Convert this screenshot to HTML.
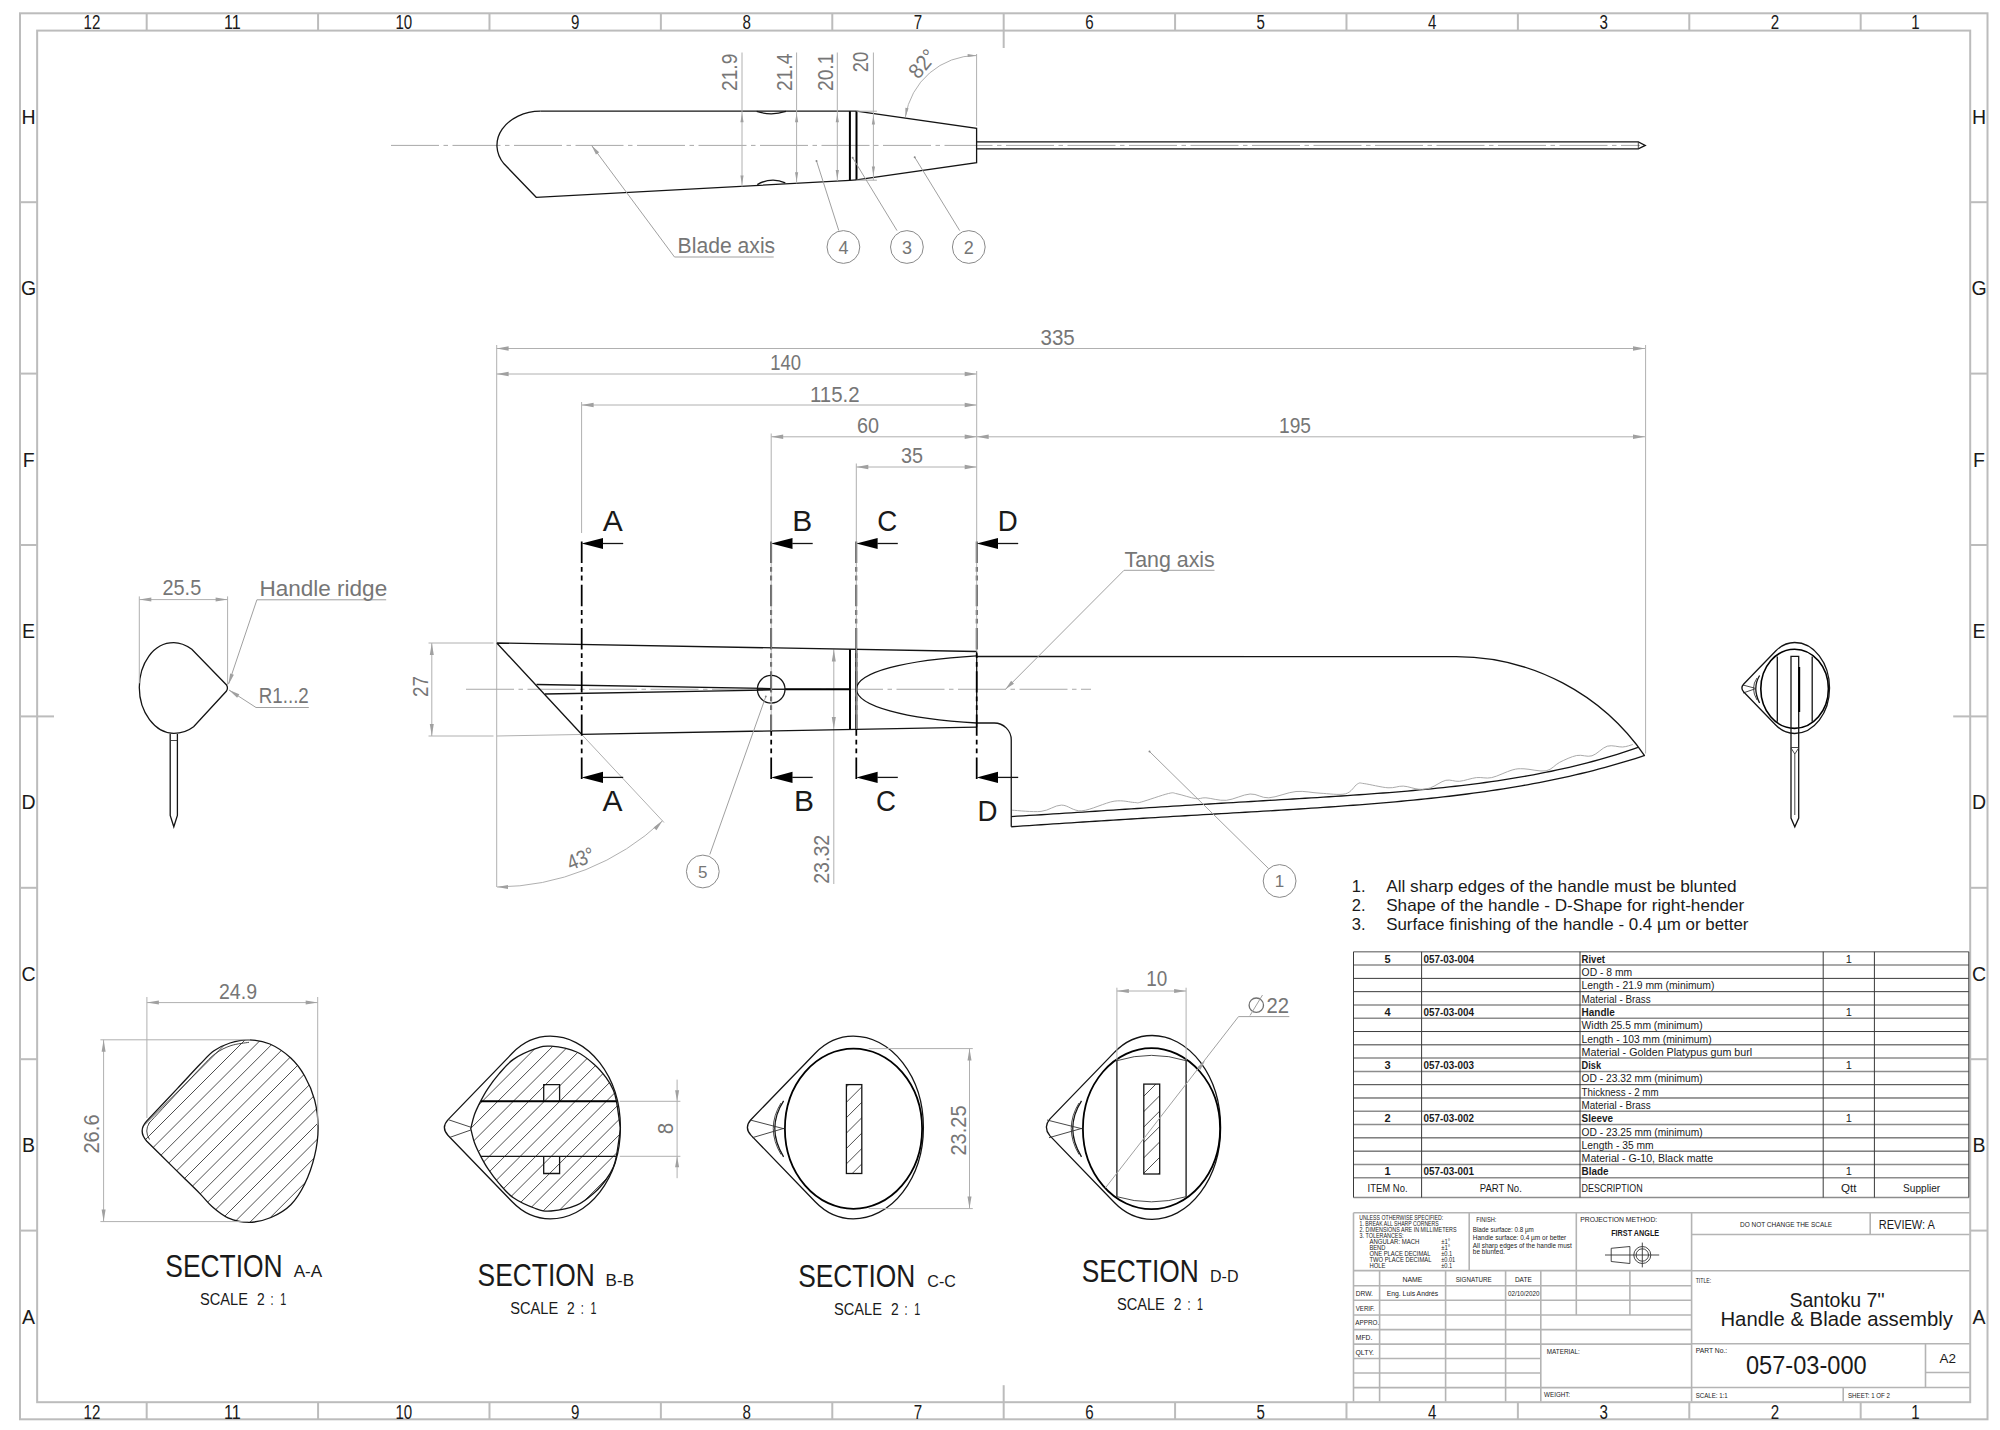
<!DOCTYPE html>
<html><head><meta charset="utf-8"><style>
html,body{margin:0;padding:0;background:#fff;overflow:hidden;width:2000px;height:1430px;}
svg{display:block;}
.b{stroke:#bcbcbc;stroke-width:2;fill:none;}
.tb{stroke:#b4b4b4;stroke-width:1.6;fill:none;}
.tbl{stroke:#3a3a3a;stroke-width:1;fill:none;}
.tblg{stroke:#8c8c8c;stroke-width:1.5;fill:none;}
.m{stroke:#141414;stroke-width:1.3;fill:none;}
.mk{stroke:#000;stroke-width:2;fill:none;}
.th{stroke:#333;stroke-width:0.9;fill:none;}
.d{stroke:#b0b0b0;stroke-width:1;fill:none;}
.dl{stroke:#a0a0a0;stroke-width:1;fill:none;}
.cl{stroke:#a8a8a8;stroke-width:1;fill:none;stroke-dasharray:48 4.5 4.5 4.5;}
.sec{stroke:#000;stroke-width:1.75;fill:none;stroke-dasharray:21.4 3.9 4.8 3.9 4.8 4.4;}
.ah{fill:#a0a0a0;stroke:none;}
.ahk{fill:#000;stroke:none;}
.wv{stroke:#aaa;stroke-width:1;fill:none;}
.ht{stroke:#222;stroke-width:0.8;fill:none;}
text{font-family:"Liberation Sans", sans-serif;}
.t{fill:#1a1a1a;}
.g{fill:#767676;}
.bal{stroke:#8a8a8a;stroke-width:1;fill:none;}
</style></head><body>
<svg width="2000" height="1430" viewBox="0 0 2000 1430">
<rect x="0" y="0" width="2000" height="1430" fill="#fff"/>
<rect x="20" y="13.3" width="1967.5" height="1406.0" class="b"/>
<rect x="37.15" y="30.6" width="1933.05" height="1371.6000000000001" class="b"/>
<line x1="146.68" y1="13.3" x2="146.68" y2="30.6" class="b"/>
<line x1="146.68" y1="1402.2" x2="146.68" y2="1419.3" class="b"/>
<line x1="318.08" y1="13.3" x2="318.08" y2="30.6" class="b"/>
<line x1="318.08" y1="1402.2" x2="318.08" y2="1419.3" class="b"/>
<line x1="489.48" y1="13.3" x2="489.48" y2="30.6" class="b"/>
<line x1="489.48" y1="1402.2" x2="489.48" y2="1419.3" class="b"/>
<line x1="660.88" y1="13.3" x2="660.88" y2="30.6" class="b"/>
<line x1="660.88" y1="1402.2" x2="660.88" y2="1419.3" class="b"/>
<line x1="832.28" y1="13.3" x2="832.28" y2="30.6" class="b"/>
<line x1="832.28" y1="1402.2" x2="832.28" y2="1419.3" class="b"/>
<line x1="1003.68" y1="13.3" x2="1003.68" y2="30.6" class="b"/>
<line x1="1003.68" y1="1402.2" x2="1003.68" y2="1419.3" class="b"/>
<line x1="1175.08" y1="13.3" x2="1175.08" y2="30.6" class="b"/>
<line x1="1175.08" y1="1402.2" x2="1175.08" y2="1419.3" class="b"/>
<line x1="1346.48" y1="13.3" x2="1346.48" y2="30.6" class="b"/>
<line x1="1346.48" y1="1402.2" x2="1346.48" y2="1419.3" class="b"/>
<line x1="1517.88" y1="13.3" x2="1517.88" y2="30.6" class="b"/>
<line x1="1517.88" y1="1402.2" x2="1517.88" y2="1419.3" class="b"/>
<line x1="1689.28" y1="13.3" x2="1689.28" y2="30.6" class="b"/>
<line x1="1689.28" y1="1402.2" x2="1689.28" y2="1419.3" class="b"/>
<line x1="1860.68" y1="13.3" x2="1860.68" y2="30.6" class="b"/>
<line x1="1860.68" y1="1402.2" x2="1860.68" y2="1419.3" class="b"/>
<line x1="20" y1="202.2" x2="37.15" y2="202.2" class="b"/>
<line x1="1970.2" y1="202.2" x2="1987.5" y2="202.2" class="b"/>
<line x1="20" y1="373.6" x2="37.15" y2="373.6" class="b"/>
<line x1="1970.2" y1="373.6" x2="1987.5" y2="373.6" class="b"/>
<line x1="20" y1="545" x2="37.15" y2="545" class="b"/>
<line x1="1970.2" y1="545" x2="1987.5" y2="545" class="b"/>
<line x1="20" y1="716.4" x2="37.15" y2="716.4" class="b"/>
<line x1="1970.2" y1="716.4" x2="1987.5" y2="716.4" class="b"/>
<line x1="20" y1="887.8" x2="37.15" y2="887.8" class="b"/>
<line x1="1970.2" y1="887.8" x2="1987.5" y2="887.8" class="b"/>
<line x1="20" y1="1059.2" x2="37.15" y2="1059.2" class="b"/>
<line x1="1970.2" y1="1059.2" x2="1987.5" y2="1059.2" class="b"/>
<line x1="20" y1="1230.6" x2="37.15" y2="1230.6" class="b"/>
<line x1="1970.2" y1="1230.6" x2="1987.5" y2="1230.6" class="b"/>
<line x1="1003.68" y1="30.6" x2="1003.68" y2="48" class="b"/>
<line x1="1003.68" y1="1402.2" x2="1003.68" y2="1385.2" class="b"/>
<line x1="37.15" y1="716.4" x2="54" y2="716.4" class="b"/>
<line x1="1970.2" y1="716.4" x2="1953.2" y2="716.4" class="b"/>
<text x="91.91" y="29.2" font-size="20" class="t" text-anchor="middle" textLength="16.8" lengthAdjust="spacingAndGlyphs">12</text>
<text x="91.91" y="1418.6" font-size="20" class="t" text-anchor="middle" textLength="16.8" lengthAdjust="spacingAndGlyphs">12</text>
<text x="232.38" y="29.2" font-size="20" class="t" text-anchor="middle" textLength="16.8" lengthAdjust="spacingAndGlyphs">11</text>
<text x="232.38" y="1418.6" font-size="20" class="t" text-anchor="middle" textLength="16.8" lengthAdjust="spacingAndGlyphs">11</text>
<text x="403.78" y="29.2" font-size="20" class="t" text-anchor="middle" textLength="16.8" lengthAdjust="spacingAndGlyphs">10</text>
<text x="403.78" y="1418.6" font-size="20" class="t" text-anchor="middle" textLength="16.8" lengthAdjust="spacingAndGlyphs">10</text>
<text x="575.17" y="29.2" font-size="20" class="t" text-anchor="middle" textLength="8.4" lengthAdjust="spacingAndGlyphs">9</text>
<text x="575.17" y="1418.6" font-size="20" class="t" text-anchor="middle" textLength="8.4" lengthAdjust="spacingAndGlyphs">9</text>
<text x="746.58" y="29.2" font-size="20" class="t" text-anchor="middle" textLength="8.4" lengthAdjust="spacingAndGlyphs">8</text>
<text x="746.58" y="1418.6" font-size="20" class="t" text-anchor="middle" textLength="8.4" lengthAdjust="spacingAndGlyphs">8</text>
<text x="917.98" y="29.2" font-size="20" class="t" text-anchor="middle" textLength="8.4" lengthAdjust="spacingAndGlyphs">7</text>
<text x="917.98" y="1418.6" font-size="20" class="t" text-anchor="middle" textLength="8.4" lengthAdjust="spacingAndGlyphs">7</text>
<text x="1089.38" y="29.2" font-size="20" class="t" text-anchor="middle" textLength="8.4" lengthAdjust="spacingAndGlyphs">6</text>
<text x="1089.38" y="1418.6" font-size="20" class="t" text-anchor="middle" textLength="8.4" lengthAdjust="spacingAndGlyphs">6</text>
<text x="1260.78" y="29.2" font-size="20" class="t" text-anchor="middle" textLength="8.4" lengthAdjust="spacingAndGlyphs">5</text>
<text x="1260.78" y="1418.6" font-size="20" class="t" text-anchor="middle" textLength="8.4" lengthAdjust="spacingAndGlyphs">5</text>
<text x="1432.18" y="29.2" font-size="20" class="t" text-anchor="middle" textLength="8.4" lengthAdjust="spacingAndGlyphs">4</text>
<text x="1432.18" y="1418.6" font-size="20" class="t" text-anchor="middle" textLength="8.4" lengthAdjust="spacingAndGlyphs">4</text>
<text x="1603.58" y="29.2" font-size="20" class="t" text-anchor="middle" textLength="8.4" lengthAdjust="spacingAndGlyphs">3</text>
<text x="1603.58" y="1418.6" font-size="20" class="t" text-anchor="middle" textLength="8.4" lengthAdjust="spacingAndGlyphs">3</text>
<text x="1774.98" y="29.2" font-size="20" class="t" text-anchor="middle" textLength="8.4" lengthAdjust="spacingAndGlyphs">2</text>
<text x="1774.98" y="1418.6" font-size="20" class="t" text-anchor="middle" textLength="8.4" lengthAdjust="spacingAndGlyphs">2</text>
<text x="1915.44" y="29.2" font-size="20" class="t" text-anchor="middle" textLength="8.4" lengthAdjust="spacingAndGlyphs">1</text>
<text x="1915.44" y="1418.6" font-size="20" class="t" text-anchor="middle" textLength="8.4" lengthAdjust="spacingAndGlyphs">1</text>
<text x="28.6" y="123.7" font-size="19.5" class="t" text-anchor="middle">H</text>
<text x="1979" y="123.7" font-size="19.5" class="t" text-anchor="middle">H</text>
<text x="28.6" y="295.2" font-size="19.5" class="t" text-anchor="middle">G</text>
<text x="1979" y="295.2" font-size="19.5" class="t" text-anchor="middle">G</text>
<text x="28.6" y="466.6" font-size="19.5" class="t" text-anchor="middle">F</text>
<text x="1979" y="466.6" font-size="19.5" class="t" text-anchor="middle">F</text>
<text x="28.6" y="638" font-size="19.5" class="t" text-anchor="middle">E</text>
<text x="1979" y="638" font-size="19.5" class="t" text-anchor="middle">E</text>
<text x="28.6" y="809.4" font-size="19.5" class="t" text-anchor="middle">D</text>
<text x="1979" y="809.4" font-size="19.5" class="t" text-anchor="middle">D</text>
<text x="28.6" y="980.8" font-size="19.5" class="t" text-anchor="middle">C</text>
<text x="1979" y="980.8" font-size="19.5" class="t" text-anchor="middle">C</text>
<text x="28.6" y="1152.2" font-size="19.5" class="t" text-anchor="middle">B</text>
<text x="1979" y="1152.2" font-size="19.5" class="t" text-anchor="middle">B</text>
<text x="28.6" y="1323.7" font-size="19.5" class="t" text-anchor="middle">A</text>
<text x="1979" y="1323.7" font-size="19.5" class="t" text-anchor="middle">A</text>
<line x1="391" y1="145.4" x2="1640" y2="145.4" class="cl"/>
<path d="M 540.4 111.2 L 856.5 111.2" class="m" />
<path d="M 540.4 111.2 A 44 34.1 0 0 0 504 163.8 L 536.2 197.3 L 849.9 180.4" class="m" />
<path d="M 756.7 111.4 Q 771.3 116.2 785.9 111.4" class="m" />
<path d="M 757.3 184.6 Q 771.3 176.5 785.3 182.8" class="m" />
<line x1="849.9" y1="111.2" x2="849.9" y2="180.5" class="mk"/>
<line x1="856.5" y1="111.2" x2="856.5" y2="179.8" class="mk"/>
<line x1="849.9" y1="180.4" x2="856.5" y2="179.8" class="m"/>
<path d="M 856.5 111.2 L 976.6 128.4 L 976.6 162.6 L 856.5 179.8" class="m" />
<path d="M 976.6 141.8 L 1638.3 141.8 L 1645.3 145.4 L 1638.3 148.9 L 976.6 148.9" class="m" />
<line x1="1638.3" y1="141.8" x2="1638.3" y2="148.9" class="th"/>
<line x1="742" y1="52.5" x2="742" y2="186.5" class="d"/>
<line x1="796.6" y1="52.5" x2="796.6" y2="183.3" class="d"/>
<line x1="837.3" y1="52.5" x2="837.3" y2="181" class="d"/>
<line x1="873.4" y1="52.5" x2="873.4" y2="180.2" class="d"/>
<path d="M 742 113.2 L 743.6 122.2 L 740.4 122.2 Z" class="ah"/>
<path d="M 742 184.5 L 740.4 175.5 L 743.6 175.5 Z" class="ah"/>
<path d="M 796.6 113.2 L 798.2 122.2 L 795 122.2 Z" class="ah"/>
<path d="M 796.6 181.3 L 795 172.3 L 798.2 172.3 Z" class="ah"/>
<path d="M 837.3 113.2 L 838.9 122.2 L 835.7 122.2 Z" class="ah"/>
<path d="M 837.3 179 L 835.7 170 L 838.9 170 Z" class="ah"/>
<path d="M 873.4 115.5 L 875 124.5 L 871.8 124.5 Z" class="ah"/>
<path d="M 873.4 175.5 L 871.8 166.5 L 875 166.5 Z" class="ah"/>
<line x1="856.8" y1="111.2" x2="876.9" y2="111.2" class="d"/>
<line x1="856.8" y1="180.2" x2="876.9" y2="180.2" class="d"/>
<text x="736.8" y="72.3" font-size="21.5" class="g" text-anchor="middle" textLength="37.5" lengthAdjust="spacingAndGlyphs" transform="rotate(-90 736.8 72.3)">21.9</text>
<text x="792.5" y="72.3" font-size="21.5" class="g" text-anchor="middle" textLength="37.5" lengthAdjust="spacingAndGlyphs" transform="rotate(-90 792.5 72.3)">21.4</text>
<text x="832.8" y="72.3" font-size="21.5" class="g" text-anchor="middle" textLength="37.5" lengthAdjust="spacingAndGlyphs" transform="rotate(-90 832.8 72.3)">20.1</text>
<text x="868.3" y="62.1" font-size="21.5" class="g" text-anchor="middle" textLength="20.5" lengthAdjust="spacingAndGlyphs" transform="rotate(-90 868.3 62.1)">20</text>
<line x1="976.6" y1="54" x2="976.6" y2="126" class="d"/>
<path d="M 905.4 116.9 A 72 72 0 0 1 976.6 55.5" class="d" />
<path d="M 905.4 116.9 L 905.39 107.76 L 908.54 108.31 Z" class="ah"/>
<path d="M 976.6 55.5 L 967.6 57.1 L 967.6 53.9 Z" class="ah"/>
<text x="928" y="68.5" font-size="21.5" class="g" text-anchor="middle" textLength="30" lengthAdjust="spacingAndGlyphs" transform="rotate(-50 928 68.5)">82°</text>
<line x1="591.6" y1="145.4" x2="674.5" y2="257" class="dl"/>
<path d="M 591.6 145.4 L 599.17 152.23 L 595.96 154.62 Z" class="ah"/>
<line x1="674.5" y1="257" x2="773.7" y2="257" class="dl"/>
<text x="677.6" y="253.4" font-size="21.5" class="g" textLength="97.6" lengthAdjust="spacingAndGlyphs">Blade axis</text>
<circle cx="843.4" cy="247" r="16.4" class="bal"/>
<text x="843.4" y="253.6" font-size="18" class="g" text-anchor="middle">4</text>
<line x1="838.8" y1="230.6" x2="816.5" y2="160.9" class="dl"/>
<circle cx="816.5" cy="160.9" r="1" fill="#888"/>
<circle cx="906.9" cy="247" r="16.4" class="bal"/>
<text x="906.9" y="253.6" font-size="18" class="g" text-anchor="middle">3</text>
<line x1="897" y1="230.6" x2="852.7" y2="157.8" class="dl"/>
<circle cx="852.7" cy="157.8" r="1" fill="#888"/>
<circle cx="968.8" cy="247" r="16.4" class="bal"/>
<text x="968.8" y="253.6" font-size="18" class="g" text-anchor="middle">2</text>
<line x1="959.7" y1="230.6" x2="914.7" y2="157.2" class="dl"/>
<circle cx="914.7" cy="157.2" r="1" fill="#888"/>
<line x1="496.6" y1="348.5" x2="1645" y2="348.5" class="d"/>
<path d="M 496.6 348.5 L 508.6 346.3 L 508.6 350.7 Z" class="ah"/>
<path d="M 1645 348.5 L 1633 350.7 L 1633 346.3 Z" class="ah"/>
<text x="1040.5" y="345.2" font-size="21.5" class="g" textLength="34.3" lengthAdjust="spacingAndGlyphs">335</text>
<line x1="496.6" y1="374" x2="976.7" y2="374" class="d"/>
<path d="M 496.6 374 L 508.6 371.8 L 508.6 376.2 Z" class="ah"/>
<path d="M 976.7 374 L 964.7 376.2 L 964.7 371.8 Z" class="ah"/>
<text x="770.2" y="370.2" font-size="21.5" class="g" textLength="30.8" lengthAdjust="spacingAndGlyphs">140</text>
<line x1="581.6" y1="405" x2="976.7" y2="405" class="d"/>
<path d="M 581.6 405 L 593.6 402.8 L 593.6 407.2 Z" class="ah"/>
<path d="M 976.7 405 L 964.7 407.2 L 964.7 402.8 Z" class="ah"/>
<text x="810" y="401.8" font-size="21.5" class="g" textLength="49.6" lengthAdjust="spacingAndGlyphs">115.2</text>
<line x1="771.2" y1="436.8" x2="976.7" y2="436.8" class="d"/>
<path d="M 771.2 436.8 L 783.2 434.6 L 783.2 439 Z" class="ah"/>
<path d="M 976.7 436.8 L 964.7 439 L 964.7 434.6 Z" class="ah"/>
<text x="857" y="433" font-size="21.5" class="g" textLength="22" lengthAdjust="spacingAndGlyphs">60</text>
<line x1="976.7" y1="436.8" x2="1645" y2="436.8" class="d"/>
<path d="M 976.7 436.8 L 988.7 434.6 L 988.7 439 Z" class="ah"/>
<path d="M 1645 436.8 L 1633 439 L 1633 434.6 Z" class="ah"/>
<text x="1279" y="433.2" font-size="21.5" class="g" textLength="32" lengthAdjust="spacingAndGlyphs">195</text>
<line x1="856.3" y1="467" x2="976.7" y2="467" class="d"/>
<path d="M 856.3 467 L 868.3 464.8 L 868.3 469.2 Z" class="ah"/>
<path d="M 976.7 467 L 964.7 469.2 L 964.7 464.8 Z" class="ah"/>
<text x="901" y="462.5" font-size="21.5" class="g" textLength="22" lengthAdjust="spacingAndGlyphs">35</text>
<line x1="496.7" y1="345" x2="496.7" y2="887" class="d"/>
<line x1="581.6" y1="402" x2="581.6" y2="533" class="d"/>
<line x1="1645.6" y1="345" x2="1645.6" y2="753.5" class="d"/>
<line x1="428.5" y1="643" x2="493.5" y2="643" class="d"/>
<line x1="428.5" y1="736" x2="493.5" y2="736" class="d"/>
<line x1="497" y1="736" x2="580" y2="734.5" class="d"/>
<line x1="431.8" y1="643" x2="431.8" y2="736" class="d"/>
<path d="M 431.8 643 L 433.8 655 L 429.8 655 Z" class="ah"/>
<path d="M 431.8 736 L 429.8 724 L 433.8 724 Z" class="ah"/>
<text x="427.5" y="686.5" font-size="21.5" class="g" text-anchor="middle" textLength="21" lengthAdjust="spacingAndGlyphs" transform="rotate(-90 427.5 686.5)">27</text>
<line x1="833.8" y1="649.5" x2="833.8" y2="884" class="d"/>
<path d="M 833.8 649.5 L 835.8 661.5 L 831.8 661.5 Z" class="ah"/>
<path d="M 833.8 729 L 831.8 717 L 835.8 717 Z" class="ah"/>
<text x="829" y="859.3" font-size="21.5" class="g" text-anchor="middle" textLength="49" lengthAdjust="spacingAndGlyphs" transform="rotate(-90 829 859.3)">23.32</text>
<line x1="581.6" y1="734.3" x2="664" y2="822.5" class="d"/>
<path d="M 497 887 A 244 244 0 0 0 662.5 820.8" class="d" />
<path d="M 497 887 L 508 885 L 508 889 Z" class="ah"/>
<path d="M 662.5 820.8 L 656.46 830.21 L 653.54 827.48 Z" class="ah"/>
<text x="583.5" y="865.4" font-size="21.5" class="g" text-anchor="middle" textLength="28" lengthAdjust="spacingAndGlyphs" transform="rotate(-22 583.5 865.4)">43°</text>
<line x1="466" y1="689.25" x2="1091" y2="689.25" class="cl"/>
<path d="M 496.8 643 L 976.7 651.5 M 496.8 643 L 581.6 734.3 L 976.7 727.2" class="m" />
<path d="M 536.5 684.5 L 771.2 688.6 M 545 694 L 771.2 689.9" class="m" />
<line x1="785" y1="689.25" x2="850" y2="689.25" class="mk"/>
<line x1="757.4" y1="689.25" x2="785" y2="689.25" class="m"/>
<circle cx="771.2" cy="689.25" r="13.8" class="m"/>
<line x1="850" y1="649.6" x2="850" y2="729" class="mk"/>
<line x1="856.3" y1="649.7" x2="856.3" y2="728.8" class="mk"/>
<line x1="976.7" y1="651.5" x2="976.7" y2="727.2" class="m"/>
<path d="M 976.7 655.8 C 905 660 857 672 856.3 689.25 C 857 706 905 719 976.7 723" class="m" />
<path d="M 976.7 656.5 L 1456 656.6 A 229 229 0 0 1 1644.7 755.8" class="m" />
<path d="M 976.7 723 L 994 723 A 17 17 0 0 1 1011.25 740 L 1011.25 826.7" class="m" />
<path d="M 1011.25 826.77 L 1017.25 826.37 L 1023.25 825.96 L 1029.25 825.56 L 1035.25 825.16 L 1041.25 824.76 L 1047.25 824.36 L 1053.25 823.97 L 1059.25 823.57 L 1065.25 823.18 L 1071.25 822.79 L 1077.25 822.4 L 1083.25 822.01 L 1089.25 821.63 L 1095.25 821.24 L 1101.25 820.86 L 1107.25 820.48 L 1113.25 820.11 L 1119.25 819.73 L 1125.25 819.36 L 1131.25 818.99 L 1137.25 818.63 L 1143.25 818.26 L 1149.25 817.9 L 1155.25 817.54 L 1161.25 817.18 L 1167.25 816.82 L 1173.25 816.47 L 1179.25 816.12 L 1185.25 815.76 L 1191.25 815.41 L 1197.25 815.06 L 1203.25 814.71 L 1209.25 814.36 L 1215.25 814.02 L 1221.25 813.67 L 1227.25 813.32 L 1233.25 812.97 L 1239.25 812.62 L 1245.25 812.27 L 1251.25 811.91 L 1257.25 811.56 L 1263.25 811.2 L 1269.25 810.84 L 1275.25 810.48 L 1281.25 810.11 L 1287.25 809.74 L 1293.25 809.36 L 1299.25 808.98 L 1305.25 808.6 L 1311.25 808.21 L 1317.25 807.81 L 1323.25 807.4 L 1329.25 806.99 L 1335.25 806.57 L 1341.25 806.14 L 1347.25 805.71 L 1353.25 805.26 L 1359.25 804.8 L 1365.25 804.33 L 1371.25 803.85 L 1377.25 803.36 L 1383.25 802.86 L 1389.25 802.34 L 1395.25 801.8 L 1401.25 801.25 L 1407.25 800.69 L 1413.25 800.11 L 1419.25 799.51 L 1425.25 798.89 L 1431.25 798.26 L 1437.25 797.6 L 1443.25 796.93 L 1449.25 796.23 L 1455.25 795.51 L 1461.25 794.76 L 1467.25 794 L 1473.25 793.2 L 1479.25 792.38 L 1485.25 791.54 L 1491.25 790.66 L 1497.25 789.76 L 1503.25 788.83 L 1509.25 787.86 L 1515.25 786.87 L 1521.25 785.84 L 1527.25 784.78 L 1533.25 783.68 L 1539.25 782.55 L 1545.25 781.38 L 1551.25 780.17 L 1557.25 778.92 L 1563.25 777.63 L 1569.25 776.29 L 1575.25 774.92 L 1581.25 773.5 L 1587.25 772.04 L 1593.25 770.52 L 1599.25 768.96 L 1605.25 767.36 L 1611.25 765.7 L 1617.25 763.99 L 1623.25 762.22 L 1629.25 760.4 L 1635.25 758.53 L 1641.25 756.6 L 1644.7 755.46" class="m" />
<path d="M 1011.25 816.54 L 1017.25 816.19 L 1023.25 815.83 L 1029.25 815.47 L 1035.25 815.11 L 1041.25 814.73 L 1047.25 814.36 L 1053.25 813.97 L 1059.25 813.59 L 1065.25 813.2 L 1071.25 812.81 L 1077.25 812.42 L 1083.25 812.03 L 1089.25 811.64 L 1095.25 811.24 L 1101.25 810.85 L 1107.25 810.45 L 1113.25 810.06 L 1119.25 809.66 L 1125.25 809.27 L 1131.25 808.88 L 1137.25 808.49 L 1143.25 808.1 L 1149.25 807.72 L 1155.25 807.33 L 1161.25 806.95 L 1167.25 806.57 L 1173.25 806.2 L 1179.25 805.82 L 1185.25 805.45 L 1191.25 805.08 L 1197.25 804.71 L 1203.25 804.34 L 1209.25 803.98 L 1215.25 803.62 L 1221.25 803.26 L 1227.25 802.9 L 1233.25 802.54 L 1239.25 802.18 L 1245.25 801.83 L 1251.25 801.48 L 1257.25 801.12 L 1263.25 800.77 L 1269.25 800.42 L 1275.25 800.06 L 1281.25 799.71 L 1287.25 799.35 L 1293.25 798.99 L 1299.25 798.63 L 1305.25 798.27 L 1311.25 797.9 L 1317.25 797.53 L 1323.25 797.15 L 1329.25 796.77 L 1335.25 796.39 L 1341.25 795.99 L 1347.25 795.59 L 1353.25 795.19 L 1359.25 794.77 L 1365.25 794.35 L 1371.25 793.91 L 1377.25 793.47 L 1383.25 793.01 L 1389.25 792.54 L 1395.25 792.05 L 1401.25 791.56 L 1407.25 791.04 L 1413.25 790.51 L 1419.25 789.97 L 1425.25 789.4 L 1431.25 788.82 L 1437.25 788.21 L 1443.25 787.59 L 1449.25 786.94 L 1455.25 786.27 L 1461.25 785.57 L 1467.25 784.85 L 1473.25 784.09 L 1479.25 783.32 L 1485.25 782.51 L 1491.25 781.67 L 1497.25 780.8 L 1503.25 779.89 L 1509.25 778.95 L 1515.25 777.97 L 1521.25 776.95 L 1527.25 775.9 L 1533.25 774.8 L 1539.25 773.67 L 1545.25 772.48 L 1551.25 771.26 L 1557.25 769.98 L 1563.25 768.66 L 1569.25 767.28 L 1575.25 765.86 L 1581.25 764.38 L 1587.25 762.84 L 1593.25 761.25 L 1599.25 759.6 L 1605.25 757.89 L 1611.25 756.12 L 1617.25 754.28 L 1623.25 752.38 L 1629.25 750.4 L 1635.25 748.36 L 1637.9 747.44" class="m" />
<path d="M 1012.1 810.2 C 1016.92 810.4 1032.78 812.25 1041 811.4 C 1049.22 810.55 1054.6 805.2 1061.4 805.1 C 1068.2 805 1073.02 811.45 1081.8 810.8 C 1090.58 810.15 1105.32 802.58 1114.1 801.2 C 1122.88 799.82 1129.97 802.37 1134.5 802.5 C 1139.03 802.63 1135.63 803.5 1141.3 802 C 1146.97 800.5 1162.55 794.87 1168.5 793.5 C 1174.45 792.13 1172.47 792.95 1177 793.8 C 1181.53 794.65 1190.88 797.93 1195.7 798.6 C 1200.52 799.27 1200.8 797.52 1205.9 797.8 C 1211 798.08 1218.93 800.93 1226.3 800.3 C 1233.67 799.67 1243.02 794.42 1250.1 794 C 1257.18 793.58 1261.15 798.22 1268.8 797.8 C 1276.45 797.38 1287.47 792.27 1296 791.5 C 1304.53 790.73 1311.75 792.82 1320 793.2 C 1328.25 793.58 1339.27 795.33 1345.5 793.8 C 1351.73 792.27 1354.28 785.7 1357.4 784 C 1360.52 782.3 1359.1 782.97 1364.2 783.6 C 1369.3 784.23 1381.48 787.38 1388 787.8 C 1394.52 788.22 1398.2 785.87 1403.3 786.1 C 1408.4 786.33 1414.07 788.92 1418.6 789.2 C 1423.13 789.48 1425.97 789.28 1430.5 787.8 C 1435.03 786.32 1440.98 781.38 1445.8 780.3 C 1450.62 779.22 1454.3 781.75 1459.4 781.3 C 1464.5 780.85 1471.02 778.22 1476.4 777.6 C 1481.78 776.98 1485.75 778.87 1491.7 777.6 C 1497.65 776.33 1506.72 771.47 1512.1 770 C 1517.48 768.53 1518.33 768.67 1524 768.8 C 1529.67 768.93 1540.15 771.88 1546.1 770.8 C 1552.05 769.72 1554.6 764.85 1559.7 762.3 C 1564.8 759.75 1571.32 756.58 1576.7 755.5 C 1582.08 754.42 1586.9 757.35 1592 755.8 C 1597.1 754.25 1602.2 747.67 1607.3 746.2 C 1612.4 744.73 1618.35 747.28 1622.6 747 C 1626.85 746.72 1631.1 744.92 1632.8 744.5" class="wv" />
<line x1="581.7" y1="541.6" x2="581.7" y2="779" class="sec"/>
<path d="M 581.7 543.5 L 603 537.9 L 603 549.1 Z" class="ahk"/>
<line x1="602.7" y1="543.5" x2="623.2" y2="543.5" class="m"/>
<path d="M 581.7 777.4 L 603 771.8 L 603 783 Z" class="ahk"/>
<line x1="602.7" y1="777.4" x2="623.2" y2="777.4" class="m"/>
<text x="612.7" y="531" font-size="29" class="t" text-anchor="middle" textLength="20" lengthAdjust="spacingAndGlyphs">A</text>
<text x="612.5" y="811.3" font-size="29" class="t" text-anchor="middle" textLength="20" lengthAdjust="spacingAndGlyphs">A</text>
<line x1="771.2" y1="541.6" x2="771.2" y2="779" class="sec"/>
<path d="M 771.2 543.5 L 792.5 537.9 L 792.5 549.1 Z" class="ahk"/>
<line x1="792.2" y1="543.5" x2="812.7" y2="543.5" class="m"/>
<path d="M 771.2 777.4 L 792.5 771.8 L 792.5 783 Z" class="ahk"/>
<line x1="792.2" y1="777.4" x2="812.7" y2="777.4" class="m"/>
<text x="802.2" y="531" font-size="29" class="t" text-anchor="middle" textLength="20" lengthAdjust="spacingAndGlyphs">B</text>
<text x="804" y="811.3" font-size="29" class="t" text-anchor="middle" textLength="20" lengthAdjust="spacingAndGlyphs">B</text>
<line x1="856.3" y1="541.6" x2="856.3" y2="779" class="sec"/>
<path d="M 856.3 543.5 L 877.6 537.9 L 877.6 549.1 Z" class="ahk"/>
<line x1="877.3" y1="543.5" x2="897.8" y2="543.5" class="m"/>
<path d="M 856.3 777.4 L 877.6 771.8 L 877.6 783 Z" class="ahk"/>
<line x1="877.3" y1="777.4" x2="897.8" y2="777.4" class="m"/>
<text x="887.3" y="531" font-size="29" class="t" text-anchor="middle" textLength="20" lengthAdjust="spacingAndGlyphs">C</text>
<text x="886" y="811.3" font-size="29" class="t" text-anchor="middle" textLength="20" lengthAdjust="spacingAndGlyphs">C</text>
<line x1="976.7" y1="541.6" x2="976.7" y2="779" class="sec"/>
<path d="M 976.7 543.5 L 998 537.9 L 998 549.1 Z" class="ahk"/>
<line x1="997.7" y1="543.5" x2="1018.2" y2="543.5" class="m"/>
<path d="M 976.7 777.4 L 998 771.8 L 998 783 Z" class="ahk"/>
<line x1="997.7" y1="777.4" x2="1018.2" y2="777.4" class="m"/>
<text x="1007.7" y="531" font-size="29" class="t" text-anchor="middle" textLength="20" lengthAdjust="spacingAndGlyphs">D</text>
<text x="987.5" y="820.5" font-size="29" class="t" text-anchor="middle" textLength="20" lengthAdjust="spacingAndGlyphs">D</text>
<line x1="771.2" y1="433.5" x2="771.2" y2="731" class="d"/>
<line x1="856.3" y1="463.5" x2="856.3" y2="729" class="d"/>
<line x1="976.7" y1="371" x2="976.7" y2="651.5" class="d"/>
<line x1="1005.5" y1="689.3" x2="1124" y2="570.3" class="dl"/>
<path d="M 1005.5 689.3 L 1011.14 680.8 L 1013.97 683.63 Z" class="ah"/>
<line x1="1124" y1="570.3" x2="1214.5" y2="570.3" class="dl"/>
<text x="1124.5" y="566.5" font-size="21.5" class="g" textLength="90.3" lengthAdjust="spacingAndGlyphs">Tang axis</text>
<circle cx="702.8" cy="871.5" r="16.4" class="bal"/>
<text x="702.8" y="877.5" font-size="17" class="g" text-anchor="middle">5</text>
<line x1="709.8" y1="854.5" x2="765.8" y2="696.5" class="dl"/>
<circle cx="765.8" cy="696.5" r="1" fill="#888"/>
<circle cx="1279.6" cy="881" r="16.4" class="bal"/>
<text x="1279.6" y="887" font-size="17" class="g" text-anchor="middle">1</text>
<line x1="1268.5" y1="868.5" x2="1149.5" y2="751.5" class="dl"/>
<circle cx="1149.5" cy="751.5" r="1" fill="#888"/>
<path d="M 191.8 649.3 C 185 644.5, 179 642.7, 173.8 642.7 C 153 642.7, 139.3 664, 139.3 687.5 C 139.3 712, 155 733.3, 173.8 733.3 C 181 733.3, 188 731, 193.6 726.7 L 226.3 691.3 Q 228.6 688 226.3 684.7 Z" class="m" />
<path d="M 170.2 733.9 L 170.2 815.5 L 173.8 826.8 L 177.4 815.5 L 177.4 733.9" class="m" />
<line x1="170.2" y1="740.5" x2="177.4" y2="740.5" class="th"/>
<line x1="139.3" y1="596.4" x2="139.3" y2="683.3" class="d"/>
<line x1="227.6" y1="596.4" x2="227.6" y2="685.2" class="d"/>
<line x1="139.3" y1="599.6" x2="227.6" y2="599.6" class="d"/>
<path d="M 139.3 599.6 L 151.3 597.6 L 151.3 601.6 Z" class="ah"/>
<path d="M 227.6 599.6 L 215.6 601.6 L 215.6 597.6 Z" class="ah"/>
<text x="162.5" y="594.9" font-size="21.5" class="g" textLength="38.7" lengthAdjust="spacingAndGlyphs">25.5</text>
<line x1="256.9" y1="599.8" x2="386.2" y2="599.8" class="dl"/>
<line x1="256.9" y1="599.8" x2="228.5" y2="684" class="dl"/>
<path d="M 228.5 684.5 L 230.1 673.43 L 233.89 674.71 Z" class="ah"/>
<text x="259.4" y="596.4" font-size="21.5" class="g" textLength="127.8" lengthAdjust="spacingAndGlyphs">Handle ridge</text>
<line x1="256" y1="707.5" x2="308.8" y2="707.5" class="dl"/>
<line x1="256" y1="707.5" x2="229" y2="690" class="dl"/>
<path d="M 229 690 L 239.32 694.3 L 237.14 697.66 Z" class="ah"/>
<text x="258.8" y="703.3" font-size="21.5" class="g" textLength="50" lengthAdjust="spacingAndGlyphs">R1...2</text>
<ellipse cx="1794.6" cy="688.8" rx="33.8" ry="39.6" class="mk" style="stroke-width:1.6"/>
<line x1="1777.3" y1="656.4" x2="1777.3" y2="721.8" class="m"/>
<line x1="1812.2" y1="656.4" x2="1812.2" y2="721.8" class="m"/>
<path d="M 1791 656.4 L 1798.7 656.4 L 1798.7 818 L 1794.8 826.8 L 1791 818 Z" class="m" />
<line x1="1791" y1="747.5" x2="1798.7" y2="747.5" class="th"/>
<line x1="1791" y1="748" x2="1794.8" y2="754" class="th"/>
<line x1="1798.7" y1="748" x2="1794.8" y2="754" class="th"/>
<line x1="1794.8" y1="754" x2="1794.8" y2="815" class="th"/>
<line x1="1799.2" y1="667" x2="1799.2" y2="712" class="mk"/>
<path d="M 1759.6 675.5 Q 1752 688 1759.6 703" class="m" />
<path d="M 1757 678 Q 1750 688 1757 700" class="th" />
<line x1="1743" y1="685" x2="1756" y2="688.5" class="th"/>
<line x1="1743" y1="693" x2="1756" y2="688.5" class="th"/>
<clipPath id="hc1"><path d="M 146.8 1120.9 C 151.92 1115.48 168.63 1097.83 177.5 1088.4 C 186.37 1078.97 193.92 1070.57 200 1064.3 C 206.08 1058.03 209 1054.35 214 1050.8 C 219 1047.25 224.18 1044.83 230 1043 C 235.82 1041.17 242.25 1039.63 248.9 1039.8 C 255.55 1039.97 262.92 1040.97 269.9 1044 C 276.88 1047.03 284.98 1052.63 290.8 1058 C 296.62 1063.37 300.83 1069.22 304.8 1076.2 C 308.77 1083.18 312.38 1091.28 314.6 1099.9 C 316.82 1108.52 318.1 1118.57 318.1 1127.9 C 318.1 1137.23 316.82 1146.58 314.6 1155.9 C 312.38 1165.22 308.77 1175.65 304.8 1183.8 C 300.83 1191.95 296.43 1199.18 290.8 1204.8 C 285.17 1210.42 277.98 1214.58 271 1217.5 C 264.02 1220.42 256.07 1222.25 248.9 1222.3 C 241.73 1222.35 234.15 1220.43 228 1217.8 C 221.85 1215.17 216.68 1210.53 212 1206.5 C 207.32 1202.47 205.23 1199.02 199.9 1193.6 C 194.57 1188.18 186.65 1180.55 180 1174 C 173.35 1167.45 165.53 1159.77 160 1154.3 C 154.47 1148.83 149 1143.38 146.8 1141.2 Q 137.5 1131 146.8 1120.9 Z"/></clipPath>
<path d="M -64.8 1225 L 125.2 1035 M -49.2 1225 L 140.8 1035 M -33.6 1225 L 156.4 1035 M -18 1225 L 172 1035 M -2.4 1225 L 187.6 1035 M 13.2 1225 L 203.2 1035 M 28.8 1225 L 218.8 1035 M 44.4 1225 L 234.4 1035 M 60 1225 L 250 1035 M 75.6 1225 L 265.6 1035 M 91.2 1225 L 281.2 1035 M 106.8 1225 L 296.8 1035 M 122.4 1225 L 312.4 1035 M 138 1225 L 328 1035 M 153.6 1225 L 343.6 1035 M 169.2 1225 L 359.2 1035 M 184.8 1225 L 374.8 1035 M 200.4 1225 L 390.4 1035 M 216 1225 L 406 1035 M 231.6 1225 L 421.6 1035 M 247.2 1225 L 437.2 1035 M 262.8 1225 L 452.8 1035 M 278.4 1225 L 468.4 1035 M 294 1225 L 484 1035 M 309.6 1225 L 499.6 1035" class="ht" clip-path="url(#hc1)"/>
<path d="M 146.8 1120.9 C 151.92 1115.48 168.63 1097.83 177.5 1088.4 C 186.37 1078.97 193.92 1070.57 200 1064.3 C 206.08 1058.03 209 1054.35 214 1050.8 C 219 1047.25 224.18 1044.83 230 1043 C 235.82 1041.17 242.25 1039.63 248.9 1039.8 C 255.55 1039.97 262.92 1040.97 269.9 1044 C 276.88 1047.03 284.98 1052.63 290.8 1058 C 296.62 1063.37 300.83 1069.22 304.8 1076.2 C 308.77 1083.18 312.38 1091.28 314.6 1099.9 C 316.82 1108.52 318.1 1118.57 318.1 1127.9 C 318.1 1137.23 316.82 1146.58 314.6 1155.9 C 312.38 1165.22 308.77 1175.65 304.8 1183.8 C 300.83 1191.95 296.43 1199.18 290.8 1204.8 C 285.17 1210.42 277.98 1214.58 271 1217.5 C 264.02 1220.42 256.07 1222.25 248.9 1222.3 C 241.73 1222.35 234.15 1220.43 228 1217.8 C 221.85 1215.17 216.68 1210.53 212 1206.5 C 207.32 1202.47 205.23 1199.02 199.9 1193.6 C 194.57 1188.18 186.65 1180.55 180 1174 C 173.35 1167.45 165.53 1159.77 160 1154.3 C 154.47 1148.83 149 1143.38 146.8 1141.2 Q 137.5 1131 146.8 1120.9 Z" class="m" />
<path d="M 148.8 1123.4 C 153.83 1118 170.22 1100.4 179 1091 C 187.78 1081.6 195.42 1073.25 201.5 1067 C 207.58 1060.75 210.58 1057.07 215.5 1053.5 C 220.42 1049.93 225.42 1047.47 231 1045.6 C 236.58 1043.73 246 1042.85 249 1042.3" class="th" />
<path d="M 149.5 1122.5 Q 144 1131 149.5 1139.5" class="th" />
<line x1="146.9" y1="997" x2="146.9" y2="1118" class="d"/>
<line x1="317.7" y1="997" x2="317.7" y2="1125" class="d"/>
<line x1="146.9" y1="1002.6" x2="317.7" y2="1002.6" class="d"/>
<path d="M 146.9 1002.6 L 158.9 1000.6 L 158.9 1004.6 Z" class="ah"/>
<path d="M 317.7 1002.6 L 305.7 1004.6 L 305.7 1000.6 Z" class="ah"/>
<text x="219" y="998.9" font-size="21.5" class="g" textLength="38" lengthAdjust="spacingAndGlyphs">24.9</text>
<line x1="100.4" y1="1039.8" x2="250" y2="1039.8" class="d"/>
<line x1="100.4" y1="1221.6" x2="248" y2="1221.6" class="d"/>
<line x1="103.6" y1="1039.8" x2="103.6" y2="1221.6" class="d"/>
<path d="M 103.6 1039.8 L 105.6 1051.8 L 101.6 1051.8 Z" class="ah"/>
<path d="M 103.6 1221.6 L 101.6 1209.6 L 105.6 1209.6 Z" class="ah"/>
<text x="99" y="1134" font-size="21.5" class="g" text-anchor="middle" textLength="39.2" lengthAdjust="spacingAndGlyphs" transform="rotate(-90 99 1134)">26.6</text>
<text x="165.3" y="1277.2" font-size="31.5" class="t" textLength="117.4" lengthAdjust="spacingAndGlyphs">SECTION</text>
<text x="293.7" y="1277.2" font-size="17.3" class="t" textLength="28.5" lengthAdjust="spacingAndGlyphs">A-A</text>
<text x="200" y="1304.6" font-size="16.7" class="t" textLength="48" lengthAdjust="spacingAndGlyphs">SCALE</text>
<text x="256.9" y="1304.6" font-size="16.7" class="t" textLength="7.7" lengthAdjust="spacingAndGlyphs">2</text>
<text x="270.6" y="1304.6" font-size="16.7" class="t" textLength="3" lengthAdjust="spacingAndGlyphs">:</text>
<text x="280.2" y="1304.6" font-size="16.7" class="t" textLength="6" lengthAdjust="spacingAndGlyphs">1</text>
<clipPath id="hc2"><path d="M 470.8 1128.4 C 471.42 1126.08 472.9 1118.97 474.5 1114.5 C 476.1 1110.03 478.2 1105.88 480.4 1101.6 C 482.6 1097.32 484.63 1093.38 487.7 1088.8 C 490.77 1084.22 494.52 1079 498.8 1074.1 C 503.08 1069.2 507.28 1063.63 513.4 1059.4 C 519.52 1055.17 529.23 1050.9 535.5 1048.7 C 541.77 1046.5 544.13 1045.65 551 1046.2 C 557.87 1046.75 569.35 1048.83 576.7 1052 C 584.05 1055.17 590.2 1060.92 595.1 1065.2 C 600 1069.48 603.05 1073.53 606.1 1077.7 C 609.15 1081.87 611.68 1086.28 613.4 1090.2 C 615.12 1094.12 615.3 1095.33 616.4 1101.2 C 617.5 1107.07 619.35 1120.87 620 1125.4 C 620.65 1129.93 620.3 1127.33 620.3 1128.4 C 620.3 1129.47 620.65 1127.2 620 1131.8 C 619.35 1136.4 617.5 1150.13 616.4 1156 C 615.3 1161.87 615.12 1163.08 613.4 1167 C 611.68 1170.92 609.15 1175.33 606.1 1179.5 C 603.05 1183.67 600 1187.72 595.1 1192 C 590.2 1196.28 584.05 1202.03 576.7 1205.2 C 569.35 1208.37 557.87 1210.45 551 1211 C 544.13 1211.55 541.77 1210.7 535.5 1208.5 C 529.23 1206.3 519.52 1202.03 513.4 1197.8 C 507.28 1193.57 503.08 1188 498.8 1183.1 C 494.52 1178.2 490.77 1172.98 487.7 1168.4 C 484.63 1163.82 482.6 1159.88 480.4 1155.6 C 478.2 1151.32 476.1 1147.17 474.5 1142.7 C 472.9 1138.23 471.42 1131.12 470.8 1128.8 Z"/></clipPath>
<path d="M 292.1 1214 L 462.1 1044 M 307.6 1214 L 477.6 1044 M 323.1 1214 L 493.1 1044 M 338.6 1214 L 508.6 1044 M 354.1 1214 L 524.1 1044 M 369.6 1214 L 539.6 1044 M 385.1 1214 L 555.1 1044 M 400.6 1214 L 570.6 1044 M 416.1 1214 L 586.1 1044 M 431.6 1214 L 601.6 1044 M 447.1 1214 L 617.1 1044 M 462.6 1214 L 632.6 1044 M 478.1 1214 L 648.1 1044 M 493.6 1214 L 663.6 1044 M 509.1 1214 L 679.1 1044 M 524.6 1214 L 694.6 1044 M 540.1 1214 L 710.1 1044 M 555.6 1214 L 725.6 1044 M 571.1 1214 L 741.1 1044 M 586.6 1214 L 756.6 1044 M 602.1 1214 L 772.1 1044 M 617.6 1214 L 787.6 1044" class="ht" clip-path="url(#hc2)"/>
<path d="M 448.1 1119.6 L 512.2 1053.3 C 522.6 1042.5 535.2 1036.2 550.2 1036.2 A 70.2 91.35 0 0 1 550.2 1218.9 C 535.2 1218.9 522.6 1212.6 512.2 1201.8 L 448.1 1135.5 Q 440.7 1127.55 448.1 1119.6 Z" class="m" />
<path d="M 470.8 1128.4 C 471.42 1126.08 472.9 1118.97 474.5 1114.5 C 476.1 1110.03 478.2 1105.88 480.4 1101.6 C 482.6 1097.32 484.63 1093.38 487.7 1088.8 C 490.77 1084.22 494.52 1079 498.8 1074.1 C 503.08 1069.2 507.28 1063.63 513.4 1059.4 C 519.52 1055.17 529.23 1050.9 535.5 1048.7 C 541.77 1046.5 544.13 1045.65 551 1046.2 C 557.87 1046.75 569.35 1048.83 576.7 1052 C 584.05 1055.17 590.2 1060.92 595.1 1065.2 C 600 1069.48 603.05 1073.53 606.1 1077.7 C 609.15 1081.87 611.68 1086.28 613.4 1090.2 C 615.12 1094.12 615.3 1095.33 616.4 1101.2 C 617.5 1107.07 619.35 1120.87 620 1125.4 C 620.65 1129.93 620.3 1127.33 620.3 1128.4 C 620.3 1129.47 620.65 1127.2 620 1131.8 C 619.35 1136.4 617.5 1150.13 616.4 1156 C 615.3 1161.87 615.12 1163.08 613.4 1167 C 611.68 1170.92 609.15 1175.33 606.1 1179.5 C 603.05 1183.67 600 1187.72 595.1 1192 C 590.2 1196.28 584.05 1202.03 576.7 1205.2 C 569.35 1208.37 557.87 1210.45 551 1211 C 544.13 1211.55 541.77 1210.7 535.5 1208.5 C 529.23 1206.3 519.52 1202.03 513.4 1197.8 C 507.28 1193.57 503.08 1188 498.8 1183.1 C 494.52 1178.2 490.77 1172.98 487.7 1168.4 C 484.63 1163.82 482.6 1159.88 480.4 1155.6 C 478.2 1151.32 476.1 1147.17 474.5 1142.7 C 472.9 1138.23 471.42 1131.12 470.8 1128.8 Z" class="m" />
<line x1="480.9" y1="1101.3" x2="616" y2="1101.3" class="mk"/>
<line x1="480.9" y1="1156.3" x2="616" y2="1156.3" class="m"/>
<path d="M 543.7 1101.3 L 543.7 1084.6 L 559.6 1084.6 L 559.6 1101.3" class="m" />
<path d="M 543.7 1156.6 L 543.7 1173.5 L 559.6 1173.5 L 559.6 1156.6" class="m" />
<line x1="448.1" y1="1119.6" x2="470.8" y2="1127.2" class="th"/>
<line x1="449.5" y1="1137.5" x2="470.8" y2="1130" class="th"/>
<line x1="619.7" y1="1101.3" x2="680.4" y2="1101.3" class="d"/>
<line x1="619.7" y1="1156.3" x2="680.4" y2="1156.3" class="d"/>
<line x1="677.1" y1="1079.6" x2="677.1" y2="1178.2" class="d"/>
<path d="M 677.1 1101.3 L 675.1 1090.3 L 679.1 1090.3 Z" class="ah"/>
<path d="M 677.1 1156.3 L 679.1 1167.3 L 675.1 1167.3 Z" class="ah"/>
<text x="672.8" y="1128.4" font-size="21.5" class="g" text-anchor="middle" textLength="11.5" lengthAdjust="spacingAndGlyphs" transform="rotate(-90 672.8 1128.4)">8</text>
<text x="477.6" y="1285.5" font-size="31.5" class="t" textLength="117.2" lengthAdjust="spacingAndGlyphs">SECTION</text>
<text x="605.6" y="1285.5" font-size="17.3" class="t" textLength="28.5" lengthAdjust="spacingAndGlyphs">B-B</text>
<text x="510.2" y="1313.7" font-size="16.7" class="t" textLength="48" lengthAdjust="spacingAndGlyphs">SCALE</text>
<text x="567.1" y="1313.7" font-size="16.7" class="t" textLength="7.7" lengthAdjust="spacingAndGlyphs">2</text>
<text x="580.8" y="1313.7" font-size="16.7" class="t" textLength="3" lengthAdjust="spacingAndGlyphs">:</text>
<text x="590.4" y="1313.7" font-size="16.7" class="t" textLength="6" lengthAdjust="spacingAndGlyphs">1</text>
<path d="M 751.1 1119.5 L 815.2 1053.2 C 825.6 1042.4 838.2 1036.1 853.2 1036.1 A 70.2 91.35 0 0 1 853.2 1218.8 C 838.2 1218.8 825.6 1212.5 815.2 1201.7 L 751.1 1135.4 Q 743.7 1127.45 751.1 1119.5 Z" class="m" />
<path d="M 784.9 1128.7 A 68.6 80 0 1 0 922.1 1128.7 A 68.6 80 0 1 0 784.9 1128.7 Z" class="mk" style="stroke-width:1.8"/>
<clipPath id="hc3"><path d="M 846.4 1084.6 H 861.8 V 1173.5 H 846.4 Z"/></clipPath>
<path d="M 744.4 1173.5 L 833.3 1084.6 M 759.8 1173.5 L 848.7 1084.6 M 775.2 1173.5 L 864.1 1084.6 M 790.6 1173.5 L 879.5 1084.6 M 806 1173.5 L 894.9 1084.6 M 821.4 1173.5 L 910.3 1084.6 M 836.8 1173.5 L 925.7 1084.6 M 852.2 1173.5 L 941.1 1084.6" class="ht" clip-path="url(#hc3)"/>
<rect x="846.4" y="1084.6" width="15.4" height="88.9" class="m"/>
<path d="M 783.6 1100.9 Q 766 1128.2 783.6 1156.8" class="m" />
<path d="M 781 1103 Q 765.5 1128.2 781 1154.5" class="th" />
<line x1="750.2" y1="1120" x2="784.5" y2="1128.9" class="th"/>
<line x1="752.3" y1="1137.7" x2="784.5" y2="1128.2" class="th"/>
<line x1="868.7" y1="1048.6" x2="972.8" y2="1048.6" class="d"/>
<line x1="868.7" y1="1208.6" x2="972.8" y2="1208.6" class="d"/>
<line x1="969.5" y1="1048.6" x2="969.5" y2="1208.6" class="d"/>
<path d="M 969.5 1048.6 L 971.5 1060.6 L 967.5 1060.6 Z" class="ah"/>
<path d="M 969.5 1208.6 L 967.5 1196.6 L 971.5 1196.6 Z" class="ah"/>
<text x="966.3" y="1130.5" font-size="21.5" class="g" text-anchor="middle" textLength="50" lengthAdjust="spacingAndGlyphs" transform="rotate(-90 966.3 1130.5)">23.25</text>
<text x="798.2" y="1286.6" font-size="31.5" class="t" textLength="117.1" lengthAdjust="spacingAndGlyphs">SECTION</text>
<text x="927.3" y="1286.6" font-size="17.3" class="t" textLength="28.5" lengthAdjust="spacingAndGlyphs">C-C</text>
<text x="834" y="1315.3" font-size="16.7" class="t" textLength="48" lengthAdjust="spacingAndGlyphs">SCALE</text>
<text x="890.9" y="1315.3" font-size="16.7" class="t" textLength="7.7" lengthAdjust="spacingAndGlyphs">2</text>
<text x="904.6" y="1315.3" font-size="16.7" class="t" textLength="3" lengthAdjust="spacingAndGlyphs">:</text>
<text x="914.2" y="1315.3" font-size="16.7" class="t" textLength="6" lengthAdjust="spacingAndGlyphs">1</text>
<path d="M 1050 1118.9 L 1114.1 1052.6 C 1124.5 1041.8 1137.1 1035.5 1152.1 1035.5 A 68.5 91.9 0 0 1 1152.1 1219.3 C 1137.1 1219.3 1124.5 1213 1114.1 1202.2 L 1050 1135.9 Q 1042.6 1127.4 1050 1118.9 Z" class="m" />
<path d="M 1082.9 1128.7 A 68.6 80.5 0 1 0 1220.1 1128.7 A 68.6 80.5 0 1 0 1082.9 1128.7 Z" class="mk" style="stroke-width:1.8"/>
<line x1="1116.9" y1="1060.7" x2="1116.9" y2="1196.7" class="m"/>
<line x1="1186.1" y1="1060.7" x2="1186.1" y2="1196.7" class="m"/>
<path d="M 1116.9 1060.7 Q 1151.5 1050 1186.1 1060.7" class="th" />
<path d="M 1116.9 1196.7 Q 1151.5 1207 1186.1 1196.7" class="th" />
<clipPath id="hc4"><path d="M 1143.8 1084.1 H 1159.7 V 1174 H 1143.8 Z"/></clipPath>
<path d="M 1050.6 1174 L 1140.5 1084.1 M 1066 1174 L 1155.9 1084.1 M 1081.4 1174 L 1171.3 1084.1 M 1096.8 1174 L 1186.7 1084.1 M 1112.2 1174 L 1202.1 1084.1 M 1127.6 1174 L 1217.5 1084.1 M 1143 1174 L 1232.9 1084.1 M 1158.4 1174 L 1248.3 1084.1" class="ht" clip-path="url(#hc4)"/>
<rect x="1143.8" y="1084.1" width="15.9" height="89.9" class="m"/>
<path d="M 1081.5 1100.9 Q 1064 1128.2 1081.5 1156.8" class="m" />
<path d="M 1079 1103 Q 1063.5 1128.2 1079 1154.5" class="th" />
<line x1="1047" y1="1120" x2="1082.5" y2="1128.9" class="th"/>
<line x1="1049" y1="1137.7" x2="1082.5" y2="1128.2" class="th"/>
<line x1="1116.9" y1="987.7" x2="1116.9" y2="1060" class="d"/>
<line x1="1186.1" y1="987.7" x2="1186.1" y2="1060" class="d"/>
<line x1="1116.9" y1="991" x2="1186.1" y2="991" class="d"/>
<path d="M 1116.9 991 L 1128.9 989 L 1128.9 993 Z" class="ah"/>
<path d="M 1186.1 991 L 1174.1 993 L 1174.1 989 Z" class="ah"/>
<text x="1146.3" y="986.4" font-size="21.5" class="g" textLength="21" lengthAdjust="spacingAndGlyphs">10</text>
<line x1="1105.5" y1="1187.8" x2="1238.5" y2="1016.6" class="dl"/>
<line x1="1238.5" y1="1016.6" x2="1289.3" y2="1016.6" class="dl"/>
<path d="M 1205 1060.7 L 1200.44 1069.82 L 1197.29 1067.37 Z" class="ah"/>
<circle cx="1256.3" cy="1005.2" r="7.2" style="fill:none;stroke:#707070;stroke-width:1.3"/>
<line x1="1250" y1="1015.5" x2="1262.5" y2="995" class="dl"/>
<text x="1266.5" y="1012.9" font-size="21.5" class="g" textLength="22.5" lengthAdjust="spacingAndGlyphs">22</text>
<text x="1081.7" y="1282.2" font-size="31.5" class="t" textLength="117" lengthAdjust="spacingAndGlyphs">SECTION</text>
<text x="1210" y="1282.2" font-size="17.3" class="t" textLength="28.5" lengthAdjust="spacingAndGlyphs">D-D</text>
<text x="1116.9" y="1310" font-size="16.7" class="t" textLength="48" lengthAdjust="spacingAndGlyphs">SCALE</text>
<text x="1173.8" y="1310" font-size="16.7" class="t" textLength="7.7" lengthAdjust="spacingAndGlyphs">2</text>
<text x="1187.5" y="1310" font-size="16.7" class="t" textLength="3" lengthAdjust="spacingAndGlyphs">:</text>
<text x="1197.1" y="1310" font-size="16.7" class="t" textLength="6" lengthAdjust="spacingAndGlyphs">1</text>
<path d="M 1743.75 684.03 L 1775.68 651.02 C 1780.86 645.64 1787.13 642.5 1794.6 642.5 A 34.96 45.49 0 0 1 1794.6 733.48 C 1787.13 733.48 1780.86 730.35 1775.68 724.97 L 1743.75 691.95 Q 1740.07 687.99 1743.75 684.03 Z" class="m" />
<text x="1351.8" y="892.1" font-size="16.5" class="t">1.</text>
<text x="1386.2" y="892.1" font-size="16.5" class="t" textLength="350.5" lengthAdjust="spacingAndGlyphs">All sharp edges of the handle must be blunted</text>
<text x="1351.8" y="911" font-size="16.5" class="t">2.</text>
<text x="1386.2" y="911" font-size="16.5" class="t" textLength="358" lengthAdjust="spacingAndGlyphs">Shape of the handle - D-Shape for right-hender</text>
<text x="1351.8" y="929.9" font-size="16.5" class="t">3.</text>
<text x="1386.2" y="929.9" font-size="16.5" class="t" textLength="362.3" lengthAdjust="spacingAndGlyphs">Surface finishing of the handle - 0.4 µm or better</text>
<line x1="1353.5" y1="951.8" x2="1968.8" y2="951.8" class="tblg"/>
<line x1="1353.5" y1="965.09" x2="1968.8" y2="965.09" class="tblg"/>
<line x1="1353.5" y1="978.38" x2="1968.8" y2="978.38" class="tbl"/>
<line x1="1353.5" y1="991.67" x2="1968.8" y2="991.67" class="tbl"/>
<line x1="1353.5" y1="1004.96" x2="1968.8" y2="1004.96" class="tblg"/>
<line x1="1353.5" y1="1018.25" x2="1968.8" y2="1018.25" class="tblg"/>
<line x1="1353.5" y1="1031.54" x2="1968.8" y2="1031.54" class="tbl"/>
<line x1="1353.5" y1="1044.83" x2="1968.8" y2="1044.83" class="tbl"/>
<line x1="1353.5" y1="1058.12" x2="1968.8" y2="1058.12" class="tblg"/>
<line x1="1353.5" y1="1071.41" x2="1968.8" y2="1071.41" class="tblg"/>
<line x1="1353.5" y1="1084.7" x2="1968.8" y2="1084.7" class="tbl"/>
<line x1="1353.5" y1="1097.99" x2="1968.8" y2="1097.99" class="tbl"/>
<line x1="1353.5" y1="1111.28" x2="1968.8" y2="1111.28" class="tblg"/>
<line x1="1353.5" y1="1124.57" x2="1968.8" y2="1124.57" class="tblg"/>
<line x1="1353.5" y1="1137.86" x2="1968.8" y2="1137.86" class="tbl"/>
<line x1="1353.5" y1="1151.15" x2="1968.8" y2="1151.15" class="tbl"/>
<line x1="1353.5" y1="1164.44" x2="1968.8" y2="1164.44" class="tblg"/>
<line x1="1353.5" y1="1177.73" x2="1968.8" y2="1177.73" class="tblg"/>
<line x1="1353.5" y1="1197.53" x2="1968.8" y2="1197.53" class="tblg"/>
<line x1="1353.5" y1="951.8" x2="1353.5" y2="1197.53" class="tbl"/>
<line x1="1421.6" y1="951.8" x2="1421.6" y2="1197.53" class="tbl"/>
<line x1="1580" y1="951.8" x2="1580" y2="1197.53" class="tbl"/>
<line x1="1823.2" y1="951.8" x2="1823.2" y2="1197.53" class="tbl"/>
<line x1="1874.4" y1="951.8" x2="1874.4" y2="1197.53" class="tbl"/>
<line x1="1968.8" y1="951.8" x2="1968.8" y2="1197.53" class="tbl"/>
<text x="1387.55" y="962.8" font-size="11" class="t" text-anchor="middle" font-weight="bold">5</text>
<text x="1423.6" y="962.8" font-size="11" class="t" textLength="50.4" lengthAdjust="spacingAndGlyphs" font-weight="bold">057-03-004</text>
<text x="1581.6" y="962.8" font-size="11" class="t" textLength="23.3" lengthAdjust="spacingAndGlyphs" font-weight="bold">Rivet</text>
<text x="1848.8" y="962.8" font-size="11" class="t" text-anchor="middle">1</text>
<text x="1581.6" y="976.09" font-size="11" class="t" textLength="50.5" lengthAdjust="spacingAndGlyphs">OD - 8 mm</text>
<text x="1581.6" y="989.38" font-size="11" class="t" textLength="132.8" lengthAdjust="spacingAndGlyphs">Length - 21.9 mm (minimum)</text>
<text x="1581.6" y="1002.67" font-size="11" class="t" textLength="69" lengthAdjust="spacingAndGlyphs">Material - Brass</text>
<text x="1387.55" y="1015.96" font-size="11" class="t" text-anchor="middle" font-weight="bold">4</text>
<text x="1423.6" y="1015.96" font-size="11" class="t" textLength="50.4" lengthAdjust="spacingAndGlyphs" font-weight="bold">057-03-004</text>
<text x="1581.6" y="1015.96" font-size="11" class="t" textLength="33.3" lengthAdjust="spacingAndGlyphs" font-weight="bold">Handle</text>
<text x="1848.8" y="1015.96" font-size="11" class="t" text-anchor="middle">1</text>
<text x="1581.6" y="1029.25" font-size="11" class="t" textLength="121" lengthAdjust="spacingAndGlyphs">Width 25.5 mm (minimum)</text>
<text x="1581.6" y="1042.54" font-size="11" class="t" textLength="130" lengthAdjust="spacingAndGlyphs">Length - 103 mm (minimum)</text>
<text x="1581.6" y="1055.83" font-size="11" class="t" textLength="170.6" lengthAdjust="spacingAndGlyphs">Material -  Golden Platypus gum burl</text>
<text x="1387.55" y="1069.12" font-size="11" class="t" text-anchor="middle" font-weight="bold">3</text>
<text x="1423.6" y="1069.12" font-size="11" class="t" textLength="50.4" lengthAdjust="spacingAndGlyphs" font-weight="bold">057-03-003</text>
<text x="1581.6" y="1069.12" font-size="11" class="t" textLength="19.5" lengthAdjust="spacingAndGlyphs" font-weight="bold">Disk</text>
<text x="1848.8" y="1069.12" font-size="11" class="t" text-anchor="middle">1</text>
<text x="1581.6" y="1082.41" font-size="11" class="t" textLength="121" lengthAdjust="spacingAndGlyphs">OD - 23.32 mm (minimum)</text>
<text x="1581.6" y="1095.7" font-size="11" class="t" textLength="77" lengthAdjust="spacingAndGlyphs">Thickness - 2 mm</text>
<text x="1581.6" y="1108.99" font-size="11" class="t" textLength="69" lengthAdjust="spacingAndGlyphs">Material - Brass</text>
<text x="1387.55" y="1122.28" font-size="11" class="t" text-anchor="middle" font-weight="bold">2</text>
<text x="1423.6" y="1122.28" font-size="11" class="t" textLength="50.4" lengthAdjust="spacingAndGlyphs" font-weight="bold">057-03-002</text>
<text x="1581.6" y="1122.28" font-size="11" class="t" textLength="31.5" lengthAdjust="spacingAndGlyphs" font-weight="bold">Sleeve</text>
<text x="1848.8" y="1122.28" font-size="11" class="t" text-anchor="middle">1</text>
<text x="1581.6" y="1135.57" font-size="11" class="t" textLength="121" lengthAdjust="spacingAndGlyphs">OD - 23.25 mm (minimum)</text>
<text x="1581.6" y="1148.86" font-size="11" class="t" textLength="72" lengthAdjust="spacingAndGlyphs">Length - 35 mm</text>
<text x="1581.6" y="1162.15" font-size="11" class="t" textLength="131.5" lengthAdjust="spacingAndGlyphs">Material - G-10, Black matte</text>
<text x="1387.55" y="1175.44" font-size="11" class="t" text-anchor="middle" font-weight="bold">1</text>
<text x="1423.6" y="1175.44" font-size="11" class="t" textLength="50.4" lengthAdjust="spacingAndGlyphs" font-weight="bold">057-03-001</text>
<text x="1581.6" y="1175.44" font-size="11" class="t" textLength="27" lengthAdjust="spacingAndGlyphs" font-weight="bold">Blade</text>
<text x="1848.8" y="1175.44" font-size="11" class="t" text-anchor="middle">1</text>
<text x="1387.55" y="1191.73" font-size="11" class="t" text-anchor="middle" textLength="40" lengthAdjust="spacingAndGlyphs">ITEM No.</text>
<text x="1500.8" y="1191.73" font-size="11" class="t" text-anchor="middle" textLength="42" lengthAdjust="spacingAndGlyphs">PART No.</text>
<text x="1581.6" y="1191.73" font-size="11" class="t" textLength="61" lengthAdjust="spacingAndGlyphs">DESCRIPTION</text>
<text x="1848.8" y="1191.73" font-size="11" class="t" text-anchor="middle" textLength="15.5" lengthAdjust="spacingAndGlyphs">Qtt</text>
<text x="1921.6" y="1191.73" font-size="11" class="t" text-anchor="middle" textLength="37" lengthAdjust="spacingAndGlyphs">Supplier</text>
<line x1="1353.5" y1="1212.8" x2="1969.5" y2="1212.8" class="tb"/>
<line x1="1353.5" y1="1212.8" x2="1353.5" y2="1401.5" class="tb"/>
<line x1="1469.2" y1="1212.8" x2="1469.2" y2="1270.6" class="tb"/>
<line x1="1576.3" y1="1212.8" x2="1576.3" y2="1270.6" class="tb"/>
<line x1="1691.6" y1="1212.8" x2="1691.6" y2="1401.5" class="tb"/>
<line x1="1353.5" y1="1270.6" x2="1691.6" y2="1270.6" class="tb"/>
<line x1="1353.5" y1="1285.7" x2="1691.6" y2="1285.7" class="tb"/>
<line x1="1353.5" y1="1300.3" x2="1691.6" y2="1300.3" class="tb"/>
<line x1="1353.5" y1="1315" x2="1691.6" y2="1315" class="tb"/>
<line x1="1353.5" y1="1329.6" x2="1691.6" y2="1329.6" class="tb"/>
<line x1="1353.5" y1="1344.1" x2="1691.6" y2="1344.1" class="tb"/>
<line x1="1353.5" y1="1387.6" x2="1691.6" y2="1387.6" class="tb"/>
<line x1="1353.5" y1="1358.5" x2="1540.8" y2="1358.5" class="tb"/>
<line x1="1353.5" y1="1373" x2="1540.8" y2="1373" class="tb"/>
<line x1="1379.6" y1="1270.6" x2="1379.6" y2="1401.5" class="tb"/>
<line x1="1445.6" y1="1270.6" x2="1445.6" y2="1401.5" class="tb"/>
<line x1="1505.6" y1="1270.6" x2="1505.6" y2="1401.5" class="tb"/>
<line x1="1540.8" y1="1270.6" x2="1540.8" y2="1401.5" class="tb"/>
<line x1="1576.3" y1="1270.6" x2="1576.3" y2="1315" class="tb"/>
<line x1="1629.9" y1="1270.6" x2="1629.9" y2="1315" class="tb"/>
<line x1="1691.6" y1="1234.5" x2="1969.5" y2="1234.5" class="tb"/>
<line x1="1691.6" y1="1270.8" x2="1969.5" y2="1270.8" class="tb"/>
<line x1="1691.6" y1="1343.7" x2="1969.5" y2="1343.7" class="tb"/>
<line x1="1691.6" y1="1387.5" x2="1969.5" y2="1387.5" class="tb"/>
<line x1="1870.2" y1="1212.8" x2="1870.2" y2="1234.5" class="tb"/>
<line x1="1925.5" y1="1343.7" x2="1925.5" y2="1387.5" class="tb"/>
<line x1="1925.5" y1="1372.5" x2="1969.5" y2="1372.5" class="tb"/>
<line x1="1843.2" y1="1387.5" x2="1843.2" y2="1401.5" class="tb"/>
<text x="1359.2" y="1219.9" font-size="6.5" class="t" textLength="84" lengthAdjust="spacingAndGlyphs">UNLESS OTHERWISE SPECIFIED:</text>
<text x="1359.6" y="1225.87" font-size="6.5" class="t" textLength="79" lengthAdjust="spacingAndGlyphs">1. BREAK ALL SHARP CORNERS</text>
<text x="1359.6" y="1231.84" font-size="6.5" class="t" textLength="97" lengthAdjust="spacingAndGlyphs">2. DIMENSIONS ARE IN MILLIMETERS</text>
<text x="1359.6" y="1237.81" font-size="6.5" class="t" textLength="44" lengthAdjust="spacingAndGlyphs">3. TOLERANCES:</text>
<text x="1369.4" y="1243.78" font-size="6.5" class="t" textLength="50" lengthAdjust="spacingAndGlyphs">ANGULAR: MACH</text>
<text x="1369.4" y="1249.75" font-size="6.5" class="t" textLength="16" lengthAdjust="spacingAndGlyphs">BEND</text>
<text x="1369.4" y="1255.72" font-size="6.5" class="t" textLength="61" lengthAdjust="spacingAndGlyphs">ONE PLACE DECIMAL</text>
<text x="1369.4" y="1261.69" font-size="6.5" class="t" textLength="62" lengthAdjust="spacingAndGlyphs">TWO PLACE DECIMAL</text>
<text x="1369.4" y="1267.66" font-size="6.5" class="t" textLength="16" lengthAdjust="spacingAndGlyphs">HOLE</text>
<text x="1441.2" y="1243.78" font-size="6.5" class="t" textLength="9" lengthAdjust="spacingAndGlyphs">±1°</text>
<text x="1441.2" y="1249.75" font-size="6.5" class="t" textLength="9" lengthAdjust="spacingAndGlyphs">±1°</text>
<text x="1441.2" y="1255.72" font-size="6.5" class="t" textLength="11" lengthAdjust="spacingAndGlyphs">±0.1</text>
<text x="1441.2" y="1261.69" font-size="6.5" class="t" textLength="14" lengthAdjust="spacingAndGlyphs">±0.01</text>
<text x="1441.2" y="1267.66" font-size="6.5" class="t" textLength="11" lengthAdjust="spacingAndGlyphs">±0.1</text>
<text x="1476.3" y="1222" font-size="7" class="t" textLength="20" lengthAdjust="spacingAndGlyphs">FINISH:</text>
<text x="1472.8" y="1231.8" font-size="7" class="t" textLength="61" lengthAdjust="spacingAndGlyphs">Blade surface: 0.8 µm</text>
<text x="1472.8" y="1239.8" font-size="7" class="t" textLength="93.5" lengthAdjust="spacingAndGlyphs">Handle surface: 0.4 µm or better</text>
<text x="1472.8" y="1247.8" font-size="7" class="t" textLength="99" lengthAdjust="spacingAndGlyphs">All sharp edges of the handle must</text>
<text x="1472.8" y="1253.5" font-size="7" class="t" textLength="32" lengthAdjust="spacingAndGlyphs">be blunted.</text>
<text x="1580.2" y="1222" font-size="7.5" class="t" textLength="77" lengthAdjust="spacingAndGlyphs">PROJECTION METHOD:</text>
<text x="1611.2" y="1236.4" font-size="9.5" class="t" textLength="48" lengthAdjust="spacingAndGlyphs" font-weight="bold">FIRST ANGLE</text>
<path d="M 1611.2 1248.3 L 1629.9 1246.5 L 1629.9 1263.5 L 1611.2 1261.5 Z" class="th" />
<line x1="1605" y1="1255" x2="1659.2" y2="1255" class="th"/>
<line x1="1642.3" y1="1242.6" x2="1642.3" y2="1267.4" class="th"/>
<circle cx="1642.3" cy="1255" r="8.5" class="th"/>
<circle cx="1642.3" cy="1255" r="6.2" class="th"/>
<text x="1412.4" y="1282.2" font-size="7" class="t" text-anchor="middle" textLength="20" lengthAdjust="spacingAndGlyphs">NAME</text>
<text x="1473.7" y="1282.2" font-size="7" class="t" text-anchor="middle" textLength="36" lengthAdjust="spacingAndGlyphs">SIGNATURE</text>
<text x="1523.4" y="1282.2" font-size="7" class="t" text-anchor="middle" textLength="17" lengthAdjust="spacingAndGlyphs">DATE</text>
<text x="1355.8" y="1296.2" font-size="7" class="t" textLength="17" lengthAdjust="spacingAndGlyphs">DRW.</text>
<text x="1386.7" y="1296.2" font-size="7" class="t" textLength="51.5" lengthAdjust="spacingAndGlyphs">Eng. Luis Andrés</text>
<text x="1508" y="1295.5" font-size="6.5" class="t" textLength="31.4" lengthAdjust="spacingAndGlyphs">02/10/2020</text>
<text x="1355.8" y="1310.8" font-size="7" class="t" textLength="19" lengthAdjust="spacingAndGlyphs">VERIF.</text>
<text x="1355.2" y="1325" font-size="7" class="t" textLength="24" lengthAdjust="spacingAndGlyphs">APPRO.</text>
<text x="1355.8" y="1340.1" font-size="7" class="t" textLength="16.5" lengthAdjust="spacingAndGlyphs">MFD.</text>
<text x="1355.5" y="1354.8" font-size="7" class="t" textLength="18.5" lengthAdjust="spacingAndGlyphs">QLTY.</text>
<text x="1546.8" y="1354.3" font-size="7" class="t" textLength="33" lengthAdjust="spacingAndGlyphs">MATERIAL:</text>
<text x="1544.1" y="1397.4" font-size="7" class="t" textLength="26" lengthAdjust="spacingAndGlyphs">WEIGHT:</text>
<text x="1786.1" y="1226.7" font-size="7" class="t" text-anchor="middle" textLength="92.2" lengthAdjust="spacingAndGlyphs">DO NOT CHANGE THE SCALE</text>
<text x="1878.7" y="1228.8" font-size="12.5" class="t" textLength="56.3" lengthAdjust="spacingAndGlyphs">REVIEW: A</text>
<text x="1695.7" y="1282.5" font-size="6.5" class="t" textLength="15.5" lengthAdjust="spacingAndGlyphs">TITLE:</text>
<text x="1837.1" y="1306.5" font-size="20.5" class="t" text-anchor="middle" textLength="95.2" lengthAdjust="spacingAndGlyphs">Santoku 7''</text>
<text x="1836.7" y="1326" font-size="20.5" class="t" text-anchor="middle" textLength="232.5" lengthAdjust="spacingAndGlyphs">Handle &amp; Blade assembly</text>
<text x="1695.7" y="1353" font-size="6.5" class="t" textLength="31.5" lengthAdjust="spacingAndGlyphs">PART No.:</text>
<text x="1806.3" y="1374" font-size="25.5" class="t" text-anchor="middle" textLength="120.7" lengthAdjust="spacingAndGlyphs">057-03-000</text>
<text x="1947.8" y="1362.8" font-size="13" class="t" text-anchor="middle" textLength="16.5" lengthAdjust="spacingAndGlyphs">A2</text>
<text x="1695.7" y="1398" font-size="6.5" class="t" textLength="32" lengthAdjust="spacingAndGlyphs">SCALE: 1:1</text>
<text x="1848" y="1398" font-size="6.5" class="t" textLength="42" lengthAdjust="spacingAndGlyphs">SHEET: 1 OF 2</text>
</svg>
</body></html>
